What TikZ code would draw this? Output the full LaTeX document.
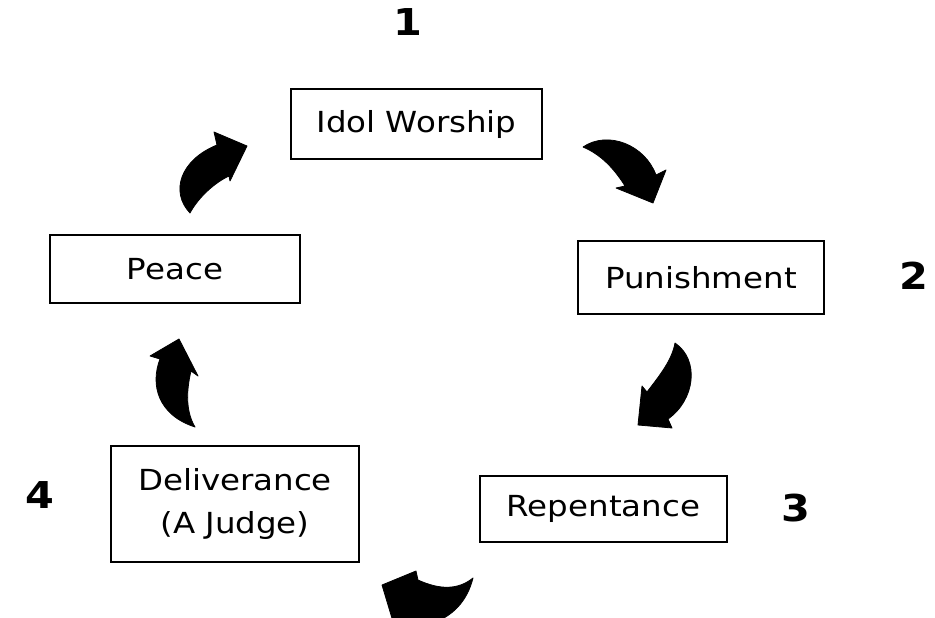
\documentclass[tikz,border=0pt]{standalone}
\usepackage{fontspec}
\setmainfont{DejaVu Sans}[FakeStretch=1.12]
\begin{document}
\begin{tikzpicture}[x=1pt,y=-1pt,
  stagebox/.style={draw=black,line width=2.8pt,rectangle,inner sep=0pt,font=\fontsize{29}{43}\selectfont,align=center},
  numlabel/.style={font=\bfseries\fontsize{37}{40}\selectfont,inner sep=0pt},
  blockarrow/.style={fill=black,draw=black,line width=0.8pt,line join=round}]
\useasboundingbox (0,0) rectangle (935,618);
\clip (0,0) rectangle (935,618);
% boxes
\node[stagebox,minimum width=251pt,minimum height=70pt] (idol) at (416.5,124) {Idol Worship};
\node[stagebox,minimum width=246pt,minimum height=73pt] (pun) at (701,277.5) {Punishment};
\node[stagebox,minimum width=247pt,minimum height=66pt] (rep) at (603.5,509) {Repentance};
\node[stagebox,minimum width=248pt,minimum height=116pt] (del) at (235,504) {Deliverance\\(A Judge)};
\node[stagebox,minimum width=250pt,minimum height=68pt] (peace) at (175,269) {Peace};
% numbers
\node[numlabel] (n1) at (408,22) {1};
\node[numlabel] (n2) at (914,276) {2};
\node[numlabel] (n3) at (796,508) {3};
\node[numlabel] (n4) at (40,495) {4};
% curved block arrows
\fill[blockarrow] (190,213) .. controls (170,192) and (180,160) .. (217,145) -- (214,132) -- (247,146) -- (230,181) -- (229,176) .. controls (214,183) and (198,198) .. (190,213) -- cycle;
\fill[blockarrow] (583,147) .. controls (608,130) and (645,145) .. (656,175) -- (666,170) -- (653,203) -- (616,188) -- (625,186) .. controls (615,170) and (602,155) .. (583,147) -- cycle;
\fill[blockarrow] (675,343) .. controls (700,360) and (695,400) .. (668,419) -- (672,428) -- (638,425) -- (642,386) -- (647,392) .. controls (660,375) and (672,360) .. (675,343) -- cycle;
\fill[blockarrow] (473,578) .. controls (458,590) and (440,590) .. (418,580) -- (416,571) -- (382,585) -- (394,625) -- (430,624) .. controls (452,617) and (467,602) .. (473,578) -- cycle;
\fill[blockarrow] (195,427) .. controls (158,415) and (150,385) .. (160,359) -- (150,356) -- (179,339) -- (198,376) -- (191,371) .. controls (186,392) and (186,412) .. (195,427) -- cycle;
\end{tikzpicture}
\end{document}
